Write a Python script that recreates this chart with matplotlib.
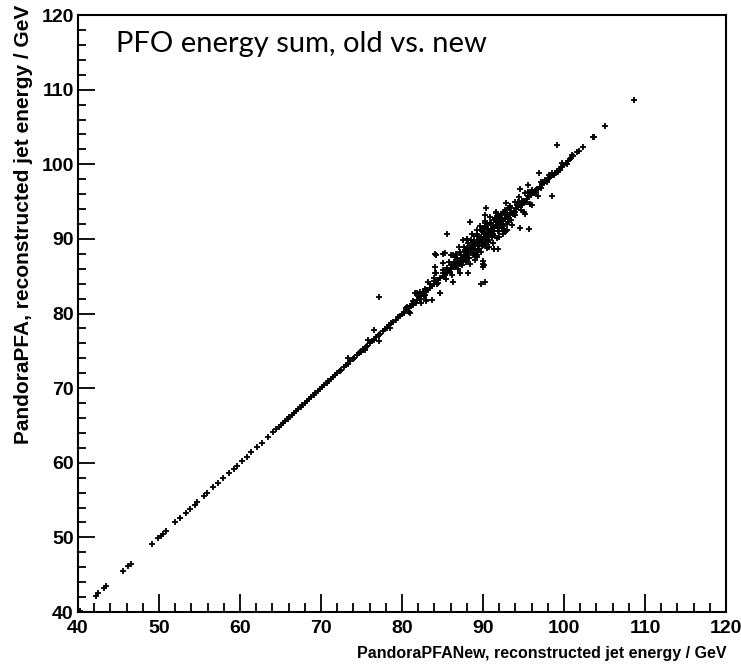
import matplotlib
matplotlib.use("Agg")
import matplotlib.pyplot as plt
from matplotlib.ticker import MultipleLocator

# jets where old and new reconstruction agree (same energy on both axes)
same_energy = [40.2, 42.2, 42.5, 43.2, 43.5, 45.5, 46.2, 46.5, 49.1, 49.9, 50.2,
               50.5, 50.9, 52.0, 52.6, 53.3, 53.8, 54.4, 54.7, 55.5, 55.9, 56.7,
               57.3, 57.9, 58.6, 59.2, 59.6, 60.2, 60.8, 61.4, 62.1, 62.7, 63.4,
               64.1, 64.5, 64.8, 65.1, 65.3, 65.6, 65.9, 66.1, 66.4, 66.7, 66.9,
               67.2, 67.5, 67.7, 68.0, 68.3, 68.5, 68.8, 69.1, 69.3, 69.6, 69.9,
               70.1, 70.4, 70.7, 70.9, 71.2, 71.5, 71.7, 72.0, 72.3, 72.5, 72.8,
               73.1, 73.3, 73.6, 73.9, 74.1, 74.4, 74.7, 74.9, 75.2, 75.5, 75.7,
               76.0, 76.3, 76.5, 76.8, 77.1, 77.3, 77.6, 77.9, 78.1, 78.4, 78.7,
               78.9, 79.2, 79.5, 79.7, 80.0, 80.2, 80.5, 80.8, 81.0, 81.3, 81.5,
               81.8, 82.1, 82.3, 82.6, 82.9, 83.1, 83.4, 83.7, 83.9, 84.2, 84.5,
               84.7, 85.0, 85.3, 85.5, 85.8, 86.1, 86.3, 86.6, 86.9, 87.1, 87.4,
               87.7, 87.9, 88.2, 88.5, 88.7, 89.0, 89.3, 89.5, 89.8, 90.1, 90.3,
               90.6, 90.9, 91.1, 91.4, 91.7, 91.9, 92.2, 92.5, 92.7, 93.0, 93.3,
               93.5, 93.8, 94.1, 94.3, 94.6, 94.9, 95.1, 95.4, 95.7, 95.9, 96.2,
               96.5, 96.7, 97.0, 97.3, 97.5, 97.8, 98.1, 98.3, 98.6, 98.9, 99.1,
               99.4, 99.7, 99.9, 100.2, 100.5, 100.7, 100.9, 101.1, 101.6, 101.8,
               102.3, 103.6, 103.7, 105.1, 108.6]

# jets where the two disagree (new, old)
new_e = [80.8, 81.2, 82.2, 83.0, 82.6, 84.7, 84.1, 85.1, 84.1, 83.9, 81.8,
         77.1, 76.5, 77.1, 75.8, 78.5, 73.3, 74.8, 75.4,
         85.5, 84.2, 85.3, 85.1, 84.1, 84.2, 83.2, 82.8, 82.2, 81.6,
         89.8, 90.2, 90.0, 90.0, 89.2, 88.2, 87.2, 86.3, 84.7, 83.7,
         83.0, 82.4, 81.0, 91.7, 91.3, 90.7, 92.5, 87.5, 88.0, 86.7, 86.3,
         99.1, 96.9, 98.5, 96.8, 95.6, 94.6, 96.0, 95.2, 94.6, 95.7,
         90.4, 90.2, 92.8, 91.6, 92.3, 90.0, 90.1, 88.4, 91.9, 89.2,
         92.5, 92.9, 93.3, 90.2, 90.0, 95.8, 95.0, 92.7, 91.3,
         85.0, 85.8, 86.5, 87.1, 87.6, 88.1, 88.5, 88.9, 89.3, 89.7, 90.1,
         90.5, 90.9, 91.3, 91.8, 92.2, 92.7, 93.3, 93.9, 94.5, 95.2,
         85.4, 86.2, 86.9, 87.4, 87.9, 88.3, 88.7, 89.1, 89.5, 89.9, 90.3,
         90.7, 91.1, 91.5, 92.0, 92.4, 92.9, 93.4, 94.0, 94.7,
         86.0, 87.0, 88.0, 88.6, 89.2, 89.6, 90.2, 90.8, 91.6,
         88.4, 89.0, 89.8, 90.5, 91.2, 92.0, 92.8, 93.6,
         80.5, 81.7, 82.9, 84.3, 85.6, 86.8, 87.9, 89.4, 91.0, 93.1, 94.8,
         96.3, 97.6, 98.8, 80.3, 81.4, 82.7, 84.0, 85.2, 86.5, 87.6, 88.9,
         90.4, 92.1, 93.9, 95.5, 97.1, 98.2, 99.5]
old_e = [80.2, 81.3, 82.0, 81.8, 82.9, 82.7, 88.0, 88.0, 85.4, 84.7, 82.7,
         82.2, 77.8, 76.3, 76.4, 78.0, 74.0, 74.9, 75.1,
         90.7, 87.9, 88.1, 86.8, 86.2, 85.4, 84.2, 83.3, 82.9, 82.7,
         84.0, 84.2, 86.7, 86.3, 87.6, 85.4, 85.4, 84.2, 82.8, 81.8,
         81.7, 81.4, 80.1, 90.1, 88.6, 88.9, 91.0, 89.8, 90.0, 88.0, 87.8,
         102.6, 98.8, 95.8, 95.7, 97.2, 96.7, 94.6, 93.4, 91.5, 91.3,
         94.1, 93.2, 94.8, 93.5, 93.2, 87.1, 86.5, 92.3, 88.6, 87.8,
         90.7, 91.2, 94.3, 92.4, 91.4, 94.7, 93.6, 91.1, 88.6,
         85.8, 86.9, 87.6, 88.3, 88.9, 89.4, 89.9, 90.4, 90.6, 91.2, 91.5,
         91.9, 92.2, 92.6, 93.0, 93.4, 93.9, 94.4, 95.0, 95.6, 96.2,
         84.6, 85.2, 86.0, 86.5, 86.9, 87.4, 87.9, 88.0, 88.6, 89.0, 89.3,
         89.8, 90.2, 90.4, 91.0, 91.5, 92.0, 92.5, 93.2, 93.9,
         87.8, 88.9, 89.9, 90.6, 91.2, 91.7, 92.2, 92.9, 93.6,
         86.6, 87.2, 88.2, 88.8, 89.5, 90.3, 91.1, 91.9,
         80.8, 81.4, 83.2, 84.0, 85.9, 86.5, 88.2, 89.1, 91.3, 92.8, 95.1,
         96.1, 97.9, 98.6, 80.1, 81.7, 82.4, 84.3, 84.9, 86.8, 87.3, 89.2,
         90.1, 92.4, 93.6, 95.8, 96.8, 98.5, 99.3]

# dense core of the cloud around 90 GeV (new, old)
core_new = [87.3, 87.8, 88.2, 88.6, 88.9, 89.2, 89.4, 89.7, 89.9, 90.2, 90.4,
            90.6, 90.9, 91.1, 91.3, 91.6, 91.9, 92.1, 92.4, 92.7, 88.0, 88.4,
            88.7, 89.0, 89.3, 89.6, 89.9, 90.1, 90.4, 90.7, 91.0, 91.2, 91.5,
            91.8, 92.0, 92.3, 92.6, 87.5, 88.1, 88.8, 89.4, 90.0, 90.6, 91.2,
            91.8, 92.5, 93.1, 86.8, 86.4, 86.0, 85.6, 87.2, 86.6, 93.0, 93.5,
            93.8, 94.3, 94.8, 95.3, 95.6, 96.1, 80.6, 81.4, 82.0, 82.8, 83.5,
            84.4, 85.1, 85.9, 95.8, 96.6, 97.2, 97.9, 98.5, 99.3, 99.8, 100.4,
            101.0, 94.2, 93.7]
core_old = [87.9, 88.5, 88.0, 89.1, 88.5, 89.9, 89.0, 90.3, 89.6, 90.8, 90.0,
            91.3, 90.5, 91.8, 91.0, 92.3, 91.5, 92.7, 92.0, 93.3, 88.8, 88.9,
            89.6, 89.3, 90.4, 90.0, 91.0, 90.6, 91.6, 91.1, 92.1, 91.5, 92.8,
            92.2, 93.1, 92.6, 93.6, 87.0, 87.5, 88.1, 88.5, 89.2, 89.6, 90.5,
            91.0, 91.7, 92.3, 87.4, 86.9, 86.5, 86.1, 86.6, 86.2, 93.9, 94.1,
            93.3, 94.9, 94.5, 95.0, 96.3, 96.6, 80.9, 81.1, 82.4, 82.5, 83.9,
            84.1, 85.5, 85.6, 96.1, 96.3, 97.6, 97.6, 98.9, 99.0, 100.2, 100.1,
            101.3, 94.6, 93.4]

fig = plt.figure(figsize=(7.41, 6.64), dpi=100)
ax = fig.add_axes([0.1053, 0.0783, 0.8745, 0.899])

for xs, ys in [(same_energy, same_energy), (new_e, old_e), (core_new, core_old)]:
    ax.plot(xs, ys, linestyle="none", marker="+", color="black",
            markersize=3.8, markeredgewidth=1.3)

ax.set_xlim(40, 120)
ax.set_ylim(40, 120)
ax.xaxis.set_major_locator(MultipleLocator(10))
ax.yaxis.set_major_locator(MultipleLocator(10))
ax.xaxis.set_minor_locator(MultipleLocator(2))
ax.yaxis.set_minor_locator(MultipleLocator(2))
ax.tick_params(which="both", direction="in", top=False, right=False, width=1.3)
ax.tick_params(axis="x", which="major", length=13, pad=6)
ax.tick_params(axis="x", which="minor", length=6.5)
ax.tick_params(axis="y", which="major", length=12, pad=3)
ax.tick_params(axis="y", which="minor", length=5.5)
for lab in ax.get_xticklabels() + ax.get_yticklabels():
    lab.set_fontfamily("Liberation Sans")
    lab.set_fontweight("bold")
    lab.set_fontsize(14)
for sp in ax.spines.values():
    sp.set_linewidth(1.5)

ax.set_xlabel("PandoraPFANew, reconstructed jet energy / GeV", fontfamily="Liberation Sans",
              fontweight="bold", fontsize=11.5, loc="right", labelpad=6)
ax.set_ylabel("PandoraPFA, reconstructed jet energy / GeV", fontfamily="Liberation Sans",
              fontweight="bold", fontsize=15, loc="top")
ax.yaxis.set_label_coords(-0.069, 1.017)

ax.text(0.058, 0.973, "PFO energy sum, old vs. new", transform=ax.transAxes,
        fontfamily="Lato", fontsize=21, va="top", ha="left")

fig.savefig("out.png", dpi=100)
